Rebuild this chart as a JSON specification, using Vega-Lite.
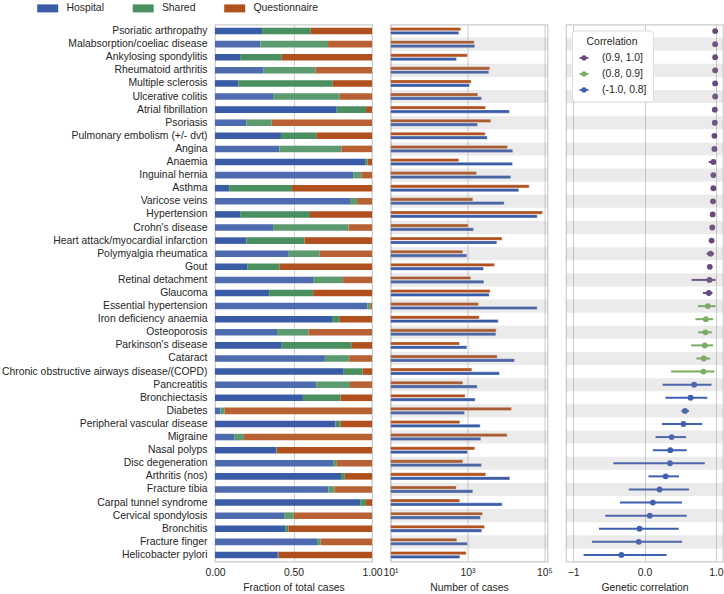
{
  "$schema": "https://vega.github.io/schema/vega-lite/v6.json",
  "padding": {"left": 0, "top": 1.5, "right": 0, "bottom": 0},
  "background": "white",
  "bounds": "flush",
  "config": {
    "font": "Liberation Sans",
    "view": {"stroke": "#cccccc", "strokeWidth": 1.25},
    "axis": {"labelFont": "Liberation Sans", "titleFont": "Liberation Sans", "labelFontSize": 10.4, "titleFontSize": 10.4, "titleFontWeight": "normal", "labelColor": "#262626", "titleColor": "#262626", "domain": false, "ticks": false, "gridColor": "#cccccc", "gridWidth": 1, "labelPadding": 6, "titlePadding": 5, "labelFlush": false},
    "legend": {"labelFont": "Liberation Sans", "titleFont": "Liberation Sans", "labelFontSize": 10.4, "titleFontSize": 10.4, "titleFontWeight": "normal", "labelColor": "#262626", "titleColor": "#262626"}
  },
  "datasets": {
    "main": [
      {"disease": "Psoriatic arthropathy", "Hospital": 0.30, "Shared": 0.31, "Questionnaire": 0.39, "Questionnaire cases": 671, "Hospital cases": 595, "rg": 0.99, "lo": 0.97, "hi": 1.0, "bin": "(0.9, 1.0]"},
      {"disease": "Malabsorption/coeliac disease", "Hospital": 0.29, "Shared": 0.43, "Questionnaire": 0.28, "Questionnaire cases": 1490, "Hospital cases": 1550, "rg": 0.99, "lo": 0.97, "hi": 1.0, "bin": "(0.9, 1.0]"},
      {"disease": "Ankylosing spondylitis", "Hospital": 0.16, "Shared": 0.265, "Questionnaire": 0.575, "Questionnaire cases": 1000, "Hospital cases": 518, "rg": 0.99, "lo": 0.97, "hi": 1.0, "bin": "(0.9, 1.0]"},
      {"disease": "Rheumatoid arthritis", "Hospital": 0.31, "Shared": 0.33, "Questionnaire": 0.36, "Questionnaire cases": 3800, "Hospital cases": 3580, "rg": 0.99, "lo": 0.97, "hi": 1.0, "bin": "(0.9, 1.0]"},
      {"disease": "Multiple sclerosis", "Hospital": 0.15, "Shared": 0.60, "Questionnaire": 0.25, "Questionnaire cases": 1245, "Hospital cases": 1127, "rg": 0.99, "lo": 0.97, "hi": 1.0, "bin": "(0.9, 1.0]"},
      {"disease": "Ulcerative colitis", "Hospital": 0.37, "Shared": 0.425, "Questionnaire": 0.205, "Questionnaire cases": 1855, "Hospital cases": 2310, "rg": 0.99, "lo": 0.97, "hi": 1.0, "bin": "(0.9, 1.0]"},
      {"disease": "Atrial fibrillation", "Hospital": 0.775, "Shared": 0.187, "Questionnaire": 0.038, "Questionnaire cases": 2935, "Hospital cases": 12330, "rg": 0.985, "lo": 0.96, "hi": 1.0, "bin": "(0.9, 1.0]"},
      {"disease": "Psoriasis", "Hospital": 0.20, "Shared": 0.16, "Questionnaire": 0.64, "Questionnaire cases": 4040, "Hospital cases": 1820, "rg": 0.985, "lo": 0.96, "hi": 1.0, "bin": "(0.9, 1.0]"},
      {"disease": "Pulmonary embolism (+/- dvt)", "Hospital": 0.42, "Shared": 0.225, "Questionnaire": 0.355, "Questionnaire cases": 2880, "Hospital cases": 3245, "rg": 0.98, "lo": 0.96, "hi": 1.0, "bin": "(0.9, 1.0]"},
      {"disease": "Angina", "Hospital": 0.41, "Shared": 0.395, "Questionnaire": 0.195, "Questionnaire cases": 10950, "Hospital cases": 15030, "rg": 0.98, "lo": 0.96, "hi": 1.0, "bin": "(0.9, 1.0]"},
      {"disease": "Anaemia", "Hospital": 0.96, "Shared": 0.012, "Questionnaire": 0.028, "Questionnaire cases": 595, "Hospital cases": 14750, "rg": 0.965, "lo": 0.9, "hi": 1.0, "bin": "(0.9, 1.0]"},
      {"disease": "Inguinal hernia", "Hospital": 0.88, "Shared": 0.052, "Questionnaire": 0.068, "Questionnaire cases": 1715, "Hospital cases": 13360, "rg": 0.965, "lo": 0.94, "hi": 0.99, "bin": "(0.9, 1.0]"},
      {"disease": "Asthma", "Hospital": 0.09, "Shared": 0.40, "Questionnaire": 0.51, "Questionnaire cases": 40000, "Hospital cases": 21530, "rg": 0.965, "lo": 0.94, "hi": 0.99, "bin": "(0.9, 1.0]"},
      {"disease": "Varicose veins", "Hospital": 0.86, "Shared": 0.045, "Questionnaire": 0.095, "Questionnaire cases": 1377, "Hospital cases": 8960, "rg": 0.96, "lo": 0.94, "hi": 0.98, "bin": "(0.9, 1.0]"},
      {"disease": "Hypertension", "Hospital": 0.16, "Shared": 0.445, "Questionnaire": 0.395, "Questionnaire cases": 88700, "Hospital cases": 64600, "rg": 0.955, "lo": 0.93, "hi": 0.98, "bin": "(0.9, 1.0]"},
      {"disease": "Crohn's disease", "Hospital": 0.37, "Shared": 0.48, "Questionnaire": 0.15, "Questionnaire cases": 1040, "Hospital cases": 1432, "rg": 0.95, "lo": 0.93, "hi": 0.97, "bin": "(0.9, 1.0]"},
      {"disease": "Heart attack/myocardial infarction", "Hospital": 0.20, "Shared": 0.37, "Questionnaire": 0.43, "Questionnaire cases": 7940, "Hospital cases": 5780, "rg": 0.94, "lo": 0.92, "hi": 0.96, "bin": "(0.9, 1.0]"},
      {"disease": "Polymyalgia rheumatica", "Hospital": 0.47, "Shared": 0.195, "Questionnaire": 0.335, "Questionnaire cases": 757, "Hospital cases": 962, "rg": 0.925, "lo": 0.87, "hi": 0.975, "bin": "(0.9, 1.0]"},
      {"disease": "Gout", "Hospital": 0.205, "Shared": 0.205, "Questionnaire": 0.59, "Questionnaire cases": 5020, "Hospital cases": 2607, "rg": 0.915, "lo": 0.89, "hi": 0.94, "bin": "(0.9, 1.0]"},
      {"disease": "Retinal detachment", "Hospital": 0.625, "Shared": 0.19, "Questionnaire": 0.185, "Questionnaire cases": 1222, "Hospital cases": 2656, "rg": 0.91, "lo": 0.66, "hi": 0.995, "bin": "(0.9, 1.0]"},
      {"disease": "Glaucoma", "Hospital": 0.345, "Shared": 0.28, "Questionnaire": 0.375, "Questionnaire cases": 3880, "Hospital cases": 3660, "rg": 0.902, "lo": 0.82, "hi": 0.953, "bin": "(0.9, 1.0]"},
      {"disease": "Essential hypertension", "Hospital": 0.97, "Shared": 0.019, "Questionnaire": 0.011, "Questionnaire cases": 1930, "Hospital cases": 64600, "rg": 0.887, "lo": 0.75, "hi": 0.995, "bin": "(0.8, 0.9]"},
      {"disease": "Iron deficiency anaemia", "Hospital": 0.745, "Shared": 0.05, "Questionnaire": 0.205, "Questionnaire cases": 2010, "Hospital cases": 6270, "rg": 0.86, "lo": 0.714, "hi": 0.962, "bin": "(0.8, 0.9]"},
      {"disease": "Osteoporosis", "Hospital": 0.395, "Shared": 0.20, "Questionnaire": 0.405, "Questionnaire cases": 5560, "Hospital cases": 5450, "rg": 0.854, "lo": 0.751, "hi": 0.944, "bin": "(0.8, 0.9]"},
      {"disease": "Parkinson's disease", "Hospital": 0.425, "Shared": 0.443, "Questionnaire": 0.132, "Questionnaire cases": 620, "Hospital cases": 962, "rg": 0.845, "lo": 0.653, "hi": 0.962, "bin": "(0.8, 0.9]"},
      {"disease": "Cataract", "Hospital": 0.70, "Shared": 0.155, "Questionnaire": 0.145, "Questionnaire cases": 5900, "Hospital cases": 16630, "rg": 0.831, "lo": 0.728, "hi": 0.92, "bin": "(0.8, 0.9]"},
      {"disease": "Chronic obstructive airways disease/(COPD)", "Hospital": 0.82, "Shared": 0.12, "Questionnaire": 0.06, "Questionnaire cases": 1297, "Hospital cases": 6780, "rg": 0.826, "lo": 0.371, "hi": 0.981, "bin": "(0.8, 0.9]"},
      {"disease": "Pancreatitis", "Hospital": 0.645, "Shared": 0.215, "Questionnaire": 0.14, "Questionnaire cases": 757, "Hospital cases": 1783, "rg": 0.695, "lo": 0.254, "hi": 0.939, "bin": "(-1.0, 0.8]"},
      {"disease": "Bronchiectasis", "Hospital": 0.56, "Shared": 0.24, "Questionnaire": 0.20, "Questionnaire cases": 869, "Hospital cases": 1581, "rg": 0.645, "lo": 0.294, "hi": 0.88, "bin": "(-1.0, 0.8]"},
      {"disease": "Diabetes", "Hospital": 0.034, "Shared": 0.026, "Questionnaire": 0.94, "Questionnaire cases": 13900, "Hospital cases": 836, "rg": 0.568, "lo": 0.516, "hi": 0.624, "bin": "(-1.0, 0.8]"},
      {"disease": "Peripheral vascular disease", "Hospital": 0.767, "Shared": 0.032, "Questionnaire": 0.201, "Questionnaire cases": 632, "Hospital cases": 2133, "rg": 0.545, "lo": 0.244, "hi": 0.808, "bin": "(-1.0, 0.8]"},
      {"disease": "Migraine", "Hospital": 0.122, "Shared": 0.062, "Questionnaire": 0.816, "Questionnaire cases": 10720, "Hospital cases": 2220, "rg": 0.38, "lo": 0.155, "hi": 0.582, "bin": "(-1.0, 0.8]"},
      {"disease": "Nasal polyps", "Hospital": 0.391, "Shared": 0.004, "Questionnaire": 0.605, "Questionnaire cases": 1550, "Hospital cases": 1000, "rg": 0.362, "lo": 0.117, "hi": 0.592, "bin": "(-1.0, 0.8]"},
      {"disease": "Disc degeneration", "Hospital": 0.752, "Shared": 0.024, "Questionnaire": 0.224, "Questionnaire cases": 757, "Hospital cases": 2310, "rg": 0.357, "lo": -0.437, "hi": 0.845, "bin": "(-1.0, 0.8]"},
      {"disease": "Arthritis (nos)", "Hospital": 0.803, "Shared": 0.024, "Questionnaire": 0.173, "Questionnaire cases": 2990, "Hospital cases": 12580, "rg": 0.296, "lo": 0.056, "hi": 0.484, "bin": "(-1.0, 0.8]"},
      {"disease": "Fracture tibia", "Hospital": 0.722, "Shared": 0.039, "Questionnaire": 0.239, "Questionnaire cases": 508, "Hospital cases": 1377, "rg": 0.211, "lo": -0.221, "hi": 0.624, "bin": "(-1.0, 0.8]"},
      {"disease": "Carpal tunnel syndrome", "Hospital": 0.925, "Shared": 0.037, "Questionnaire": 0.038, "Questionnaire cases": 632, "Hospital cases": 7940, "rg": 0.117, "lo": -0.343, "hi": 0.526, "bin": "(-1.0, 0.8]"},
      {"disease": "Cervical spondylosis", "Hospital": 0.44, "Shared": 0.062, "Questionnaire": 0.498, "Questionnaire cases": 2455, "Hospital cases": 2180, "rg": 0.075, "lo": -0.549, "hi": 0.592, "bin": "(-1.0, 0.8]"},
      {"disease": "Bronchitis", "Hospital": 0.447, "Shared": 0.021, "Questionnaire": 0.532, "Questionnaire cases": 2770, "Hospital cases": 2355, "rg": -0.07, "lo": -0.638, "hi": 0.479, "bin": "(-1.0, 0.8]"},
      {"disease": "Fracture finger", "Hospital": 0.65, "Shared": 0.023, "Questionnaire": 0.327, "Questionnaire cases": 528, "Hospital cases": 1000, "rg": -0.08, "lo": -0.737, "hi": 0.526, "bin": "(-1.0, 0.8]"},
      {"disease": "Helicobacter pylori", "Hospital": 0.40, "Shared": 0.006, "Questionnaire": 0.594, "Questionnaire cases": 923, "Hospital cases": 632, "rg": -0.324, "lo": -0.854, "hi": 0.31, "bin": "(-1.0, 0.8]"}
    ],
    "stripes": [
      {"disease": "Malabsorption/coeliac disease"}, {"disease": "Rheumatoid arthritis"}, {"disease": "Ulcerative colitis"}, {"disease": "Psoriasis"},
      {"disease": "Angina"}, {"disease": "Inguinal hernia"}, {"disease": "Varicose veins"}, {"disease": "Crohn's disease"},
      {"disease": "Polymyalgia rheumatica"}, {"disease": "Retinal detachment"}, {"disease": "Essential hypertension"}, {"disease": "Osteoporosis"},
      {"disease": "Cataract"}, {"disease": "Pancreatitis"}, {"disease": "Diabetes"}, {"disease": "Migraine"},
      {"disease": "Disc degeneration"}, {"disease": "Fracture tibia"}, {"disease": "Cervical spondylosis"}, {"disease": "Fracture finger"}
    ]
  },
  "spacing": 18.5,
  "resolve": {"scale": {"y": "shared", "x": "independent", "color": "independent", "stroke": "independent"}, "axis": {"y": "independent"}},
  "hconcat": [
    {
      "width": 157,
      "height": 537,
      "layer": [
        {
          "data": {"name": "main"},
          "transform": [
            {"fold": ["Hospital", "Shared", "Questionnaire"], "as": ["type", "fraction"]},
            {"stack": "fraction", "groupby": ["disease"], "as": ["x0", "x1"]}
          ],
          "mark": {"type": "bar", "height": {"band": 0.5}},
          "encoding": {
            "y": {
              "field": "disease", "type": "nominal", "sort": null,
              "scale": {"paddingInner": 0, "paddingOuter": 0, "domain": ["Psoriatic arthropathy", "Malabsorption/coeliac disease", "Ankylosing spondylitis", "Rheumatoid arthritis", "Multiple sclerosis", "Ulcerative colitis", "Atrial fibrillation", "Psoriasis", "Pulmonary embolism (+/- dvt)", "Angina", "Anaemia", "Inguinal hernia", "Asthma", "Varicose veins", "Hypertension", "Crohn's disease", "Heart attack/myocardial infarction", "Polymyalgia rheumatica", "Gout", "Retinal detachment", "Glaucoma", "Essential hypertension", "Iron deficiency anaemia", "Osteoporosis", "Parkinson's disease", "Cataract", "Chronic obstructive airways disease/(COPD)", "Pancreatitis", "Bronchiectasis", "Diabetes", "Peripheral vascular disease", "Migraine", "Nasal polyps", "Disc degeneration", "Arthritis (nos)", "Fracture tibia", "Carpal tunnel syndrome", "Cervical spondylosis", "Bronchitis", "Fracture finger", "Helicobacter pylori"]},
              "axis": {"title": null, "labelPadding": 8, "grid": false, "labelLimit": 400}
            },
            "x": {
              "field": "x0", "type": "quantitative",
              "scale": {"domain": [0, 1], "nice": false},
              "axis": {"values": [0, 0.25, 0.5, 0.75, 1], "format": ".2f", "title": "Fraction of total cases", "grid": true}
            },
            "x2": {"field": "x1"},
            "color": {
              "field": "type", "type": "nominal", "sort": ["Hospital", "Shared", "Questionnaire"],
              "scale": {"domain": ["Hospital", "Shared", "Questionnaire"], "range": ["#3a5ba6", "#4a8f60", "#b0501e"]},
              "legend": {"title": null, "orient": "none", "legendX": -172.5, "legendY": -21.5, "direction": "horizontal", "symbolType": "M-2.1,-0.8L2.1,-0.8L2.1,0.8L-2.1,0.8Z", "symbolSize": 100, "symbolStrokeWidth": 0, "labelOffset": 13.5, "columnPadding": 27.5, "padding": 0}
            }
          }
        },
        {
          "data": {"name": "stripes"},
          "mark": {"type": "rect", "color": "white", "opacity": 0.1},
          "encoding": {
            "y": {"field": "disease", "type": "nominal"},
            "x": {"datum": 0, "type": "quantitative"},
            "x2": {"datum": 1}
          }
        }
      ]
    },
    {
      "width": 157,
      "height": 537,
      "layer": [
        {
          "data": {"name": "main"},
          "transform": [{"fold": ["Questionnaire cases", "Hospital cases"], "as": ["src", "cases"]}],
          "mark": {"type": "bar", "stroke": "white", "strokeWidth": 0.6, "strokeOpacity": 0.6},
          "encoding": {
            "y": {"field": "disease", "type": "nominal", "axis": null},
            "yOffset": {"field": "src", "type": "nominal", "sort": ["Questionnaire cases", "Hospital cases"], "scale": {"domain": ["Questionnaire cases", "Hospital cases"], "paddingInner": 0.15, "paddingOuter": 0.8}},
            "x": {
              "field": "cases", "type": "quantitative",
              "scale": {"type": "log", "domain": [10, 120000], "nice": false},
              "axis": {"values": [10, 1000, 100000], "labelExpr": "datum.value == 10 ? '10¹' : datum.value == 1000 ? '10³' : '10⁵'", "title": "Number of cases", "grid": true}
            },
            "x2": {"datum": 10},
            "color": {"field": "src", "type": "nominal", "scale": {"domain": ["Questionnaire cases", "Hospital cases"], "range": ["#b0501e", "#3a5ba6"]}, "legend": null}
          }
        },
        {
          "data": {"name": "stripes"},
          "mark": {"type": "rect", "color": "#8f8f8f", "opacity": 0.18},
          "encoding": {
            "y": {"field": "disease", "type": "nominal", "axis": null},
            "x": {"datum": 10, "type": "quantitative"},
            "x2": {"datum": 120000}
          }
        }
      ]
    },
    {
      "width": 157,
      "height": 537,
      "resolve": {"scale": {"color": "independent", "stroke": "independent"}},
      "layer": [
        {
          "data": {"name": "main"},
          "mark": {"type": "rule", "strokeWidth": 2},
          "encoding": {
            "y": {"field": "disease", "type": "nominal", "axis": null},
            "x": {
              "field": "lo", "type": "quantitative",
              "scale": {"domain": [-1.1, 1.1], "nice": false},
              "axis": {"values": [-1, 0, 1], "title": "Genetic correlation", "grid": true, "labelExpr": "datum.value < 0 ? '−' + abs(datum.value) : datum.label"}
            },
            "x2": {"field": "hi"},
            "stroke": {"field": "bin", "type": "nominal", "scale": {"domain": ["(0.9, 1.0]", "(0.8, 0.9]", "(-1.0, 0.8]"], "range": ["#694a7e", "#7aae60", "#3f5fb0"]}, "legend": null}
          }
        },
        {
          "data": {"name": "main"},
          "mark": {"type": "point", "filled": true, "size": 34, "opacity": 1},
          "encoding": {
            "y": {"field": "disease", "type": "nominal", "axis": null},
            "x": {"field": "rg", "type": "quantitative"},
            "color": {
              "field": "bin", "type": "nominal",
              "scale": {"domain": ["(0.9, 1.0]", "(0.8, 0.9]", "(-1.0, 0.8]"], "range": ["#694a7e", "#7aae60", "#3f5fb0"]},
              "legend": {
                "title": "Correlation", "orient": "top-left", "offset": 6, "padding": 6, "fillColor": "white", "strokeColor": "#dddddd", "cornerRadius": 3,
                "symbolType": "M-0.75,-0.15L0.75,-0.15L0.75,0.15L-0.75,0.15Z M-0.45,0A0.45,0.45 0 1,1 0.45,0A0.45,0.45 0 1,1 -0.45,0Z",
                "symbolSize": 144, "symbolStrokeWidth": 0, "symbolOpacity": 1, "labelOffset": 12, "rowPadding": 4, "titlePadding": 5, "titleAnchor": "middle"
              }
            }
          }
        },
        {
          "data": {"name": "stripes"},
          "mark": {"type": "rect", "color": "#8f8f8f", "opacity": 0.18},
          "encoding": {
            "y": {"field": "disease", "type": "nominal", "axis": null},
            "x": {"datum": -1.1, "type": "quantitative"},
            "x2": {"datum": 1.1}
          }
        }
      ]
    }
  ]
}
